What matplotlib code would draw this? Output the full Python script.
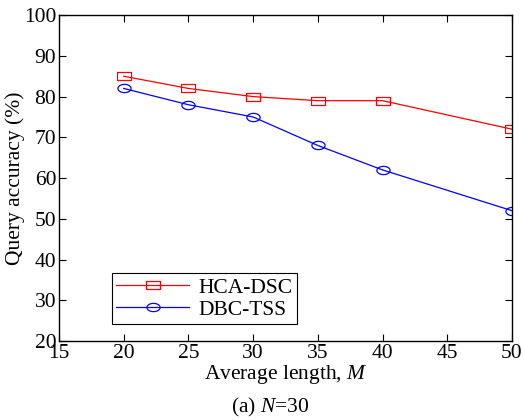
import matplotlib
matplotlib.use('Agg')
import matplotlib.pyplot as plt
from matplotlib.path import Path
import numpy as np

plt.rcParams['font.family'] = ['Liberation Serif', 'DejaVu Serif']
plt.rcParams['mathtext.fontset'] = 'custom'
plt.rcParams['mathtext.it'] = 'Liberation Serif:italic'
plt.rcParams['mathtext.rm'] = 'Liberation Serif'

lengths = [20, 25, 30, 35, 40, 50]
hca_dsc = [85, 82, 80, 79, 79, 72]
dbc_tss = [82, 78, 75, 68, 62, 52]

# wide markers (the original figure is stretched horizontally)
rect = Path([(-1.6, -1), (1.6, -1), (1.6, 1), (-1.6, 1), (-1.6, -1)],
            [Path.MOVETO, Path.LINETO, Path.LINETO, Path.LINETO, Path.CLOSEPOLY])
t = np.linspace(0, 2 * np.pi, 60)
ell = Path(np.column_stack([1.6 * np.cos(t), np.sin(t)]))

fs = 15.5
fig = plt.figure(figsize=(5.24, 4.2), dpi=100)
ax = fig.add_axes([0.1126, 0.188, 0.8644, 0.776])

ax.plot(lengths, hca_dsc, color='red', lw=0.9, marker=rect, ms=9.5,
        mfc='none', mec='red', mew=0.9, label='HCA-DSC')
ax.plot(lengths, dbc_tss, color='blue', lw=0.9, marker=ell, ms=9.5,
        mfc='none', mec='blue', mew=0.9, label='DBC-TSS')

ax.set_xlim(15, 50)
ax.set_ylim(20, 100)
ax.set_xticks(range(15, 51, 5))
ax.set_yticks(range(20, 101, 10))
ax.tick_params(direction='in', top=True, right=True, length=5, width=0.8,
               labelsize=fs, pad=2)
for s in ax.spines.values():
    s.set_linewidth(1.0)

ax.set_xlabel('Average length, $\\mathit{M}$', fontsize=fs, labelpad=0)
ax.set_ylabel('Query accuracy (%)', fontsize=fs, labelpad=-1)

leg = ax.legend(loc='lower left', bbox_to_anchor=(0.117, 0.052), fontsize=fs,
                handlelength=3.4, fancybox=False, edgecolor='black',
                framealpha=1, borderaxespad=0, borderpad=0.2,
                labelspacing=0.1, handletextpad=0.4)
leg.get_frame().set_linewidth(0.8)

fig.text(0.515, 0.017, '(a) $\\mathit{N}$=30', ha='center', fontsize=fs)

fig.savefig('out.png', dpi=100)
